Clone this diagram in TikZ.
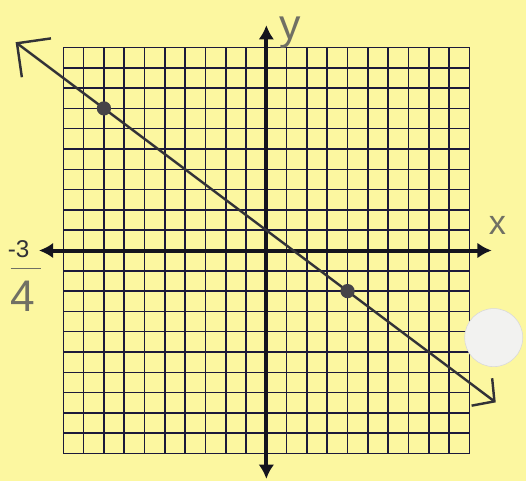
\documentclass[tikz,border=0pt]{standalone}
\usepackage{fontspec}
\setmainfont{Liberation Sans}
\usetikzlibrary{arrows.meta}
\definecolor{papercol}{RGB}{252, 247, 160}
\definecolor{gridcol}{RGB}{28, 26, 58}
\definecolor{axiscol}{RGB}{20, 20, 30}
\definecolor{pencilcol}{RGB}{112, 112, 100}
\definecolor{inkcol}{RGB}{50, 50, 55}
\definecolor{dotcol}{RGB}{70, 68, 72}
\definecolor{tackcol}{RGB}{242, 242, 240}

\begin{document}
\begin{tikzpicture}[
    x=5mm, y=5mm,
    gridline/.style={draw=gridcol, line width=1.1pt},
    axisline/.style={draw=axiscol, line width=2.8pt, {Latex[length=10pt,width=11pt]}-{Latex[length=10pt,width=11pt]}},
    graphline/.style={draw=inkcol, line width=1.7pt, line cap=round, {Straight Barb[length=17pt,width=34pt]}-{Straight Barb[length=11pt,width=24pt]}},
    ptdot/.style={circle, fill=dotcol, inner sep=0pt, minimum size=10pt},
    pencil/.style={text=pencilcol, inner sep=0pt},
    inklabel/.style={text=inkcol, inner sep=0pt}
]

% Paper
\fill[papercol] (-13.12,-11.35) rectangle (12.79,12.34);
\useasboundingbox (-13.12,-11.35) rectangle (12.79,12.34);

% Grid and axes
\draw[gridline, step=5mm] (-10,-10) grid (10,10);
\coordinate (xleft)  at (-11.2,0);
\coordinate (xright) at (11.1,0);
\coordinate (ybot)   at (0,-11.25);
\coordinate (ytop)   at (0,11.1);
\draw[axisline] (xleft) -- (xright);
\draw[axisline] (ybot) -- (ytop);
\node[pencil, font=\fontsize{24}{26}\selectfont] (xlab) at (11.38,1.23) {x};
\node[pencil, font=\fontsize{30}{32}\selectfont] (ylab) at (1.18,10.75) {y};

% Line through the two points
\coordinate (lstart) at (-12.35,10.26);
\coordinate (lend)   at (11.3,-7.48);
\draw[graphline] (lstart) -- (lend);
\node[ptdot] (pa) at (-8,7) {};
\node[ptdot] (pb) at (4,-2) {};

% Slope
\node[inklabel, font=\fontsize{17}{19}\selectfont] (num) at (-12.2,0.05) {-3};
\node[pencil, font=\fontsize{31}{33}\selectfont] (den) at (-12.0,-2.27) {4};
\draw[pencilcol, line width=1.2pt] (-12.6,-0.89) -- (-11.1,-0.89);

% Push pin
\draw[gray!30, fill=tackcol] (11.2,-4.29) circle (1.43);

\end{tikzpicture}
\end{document}
